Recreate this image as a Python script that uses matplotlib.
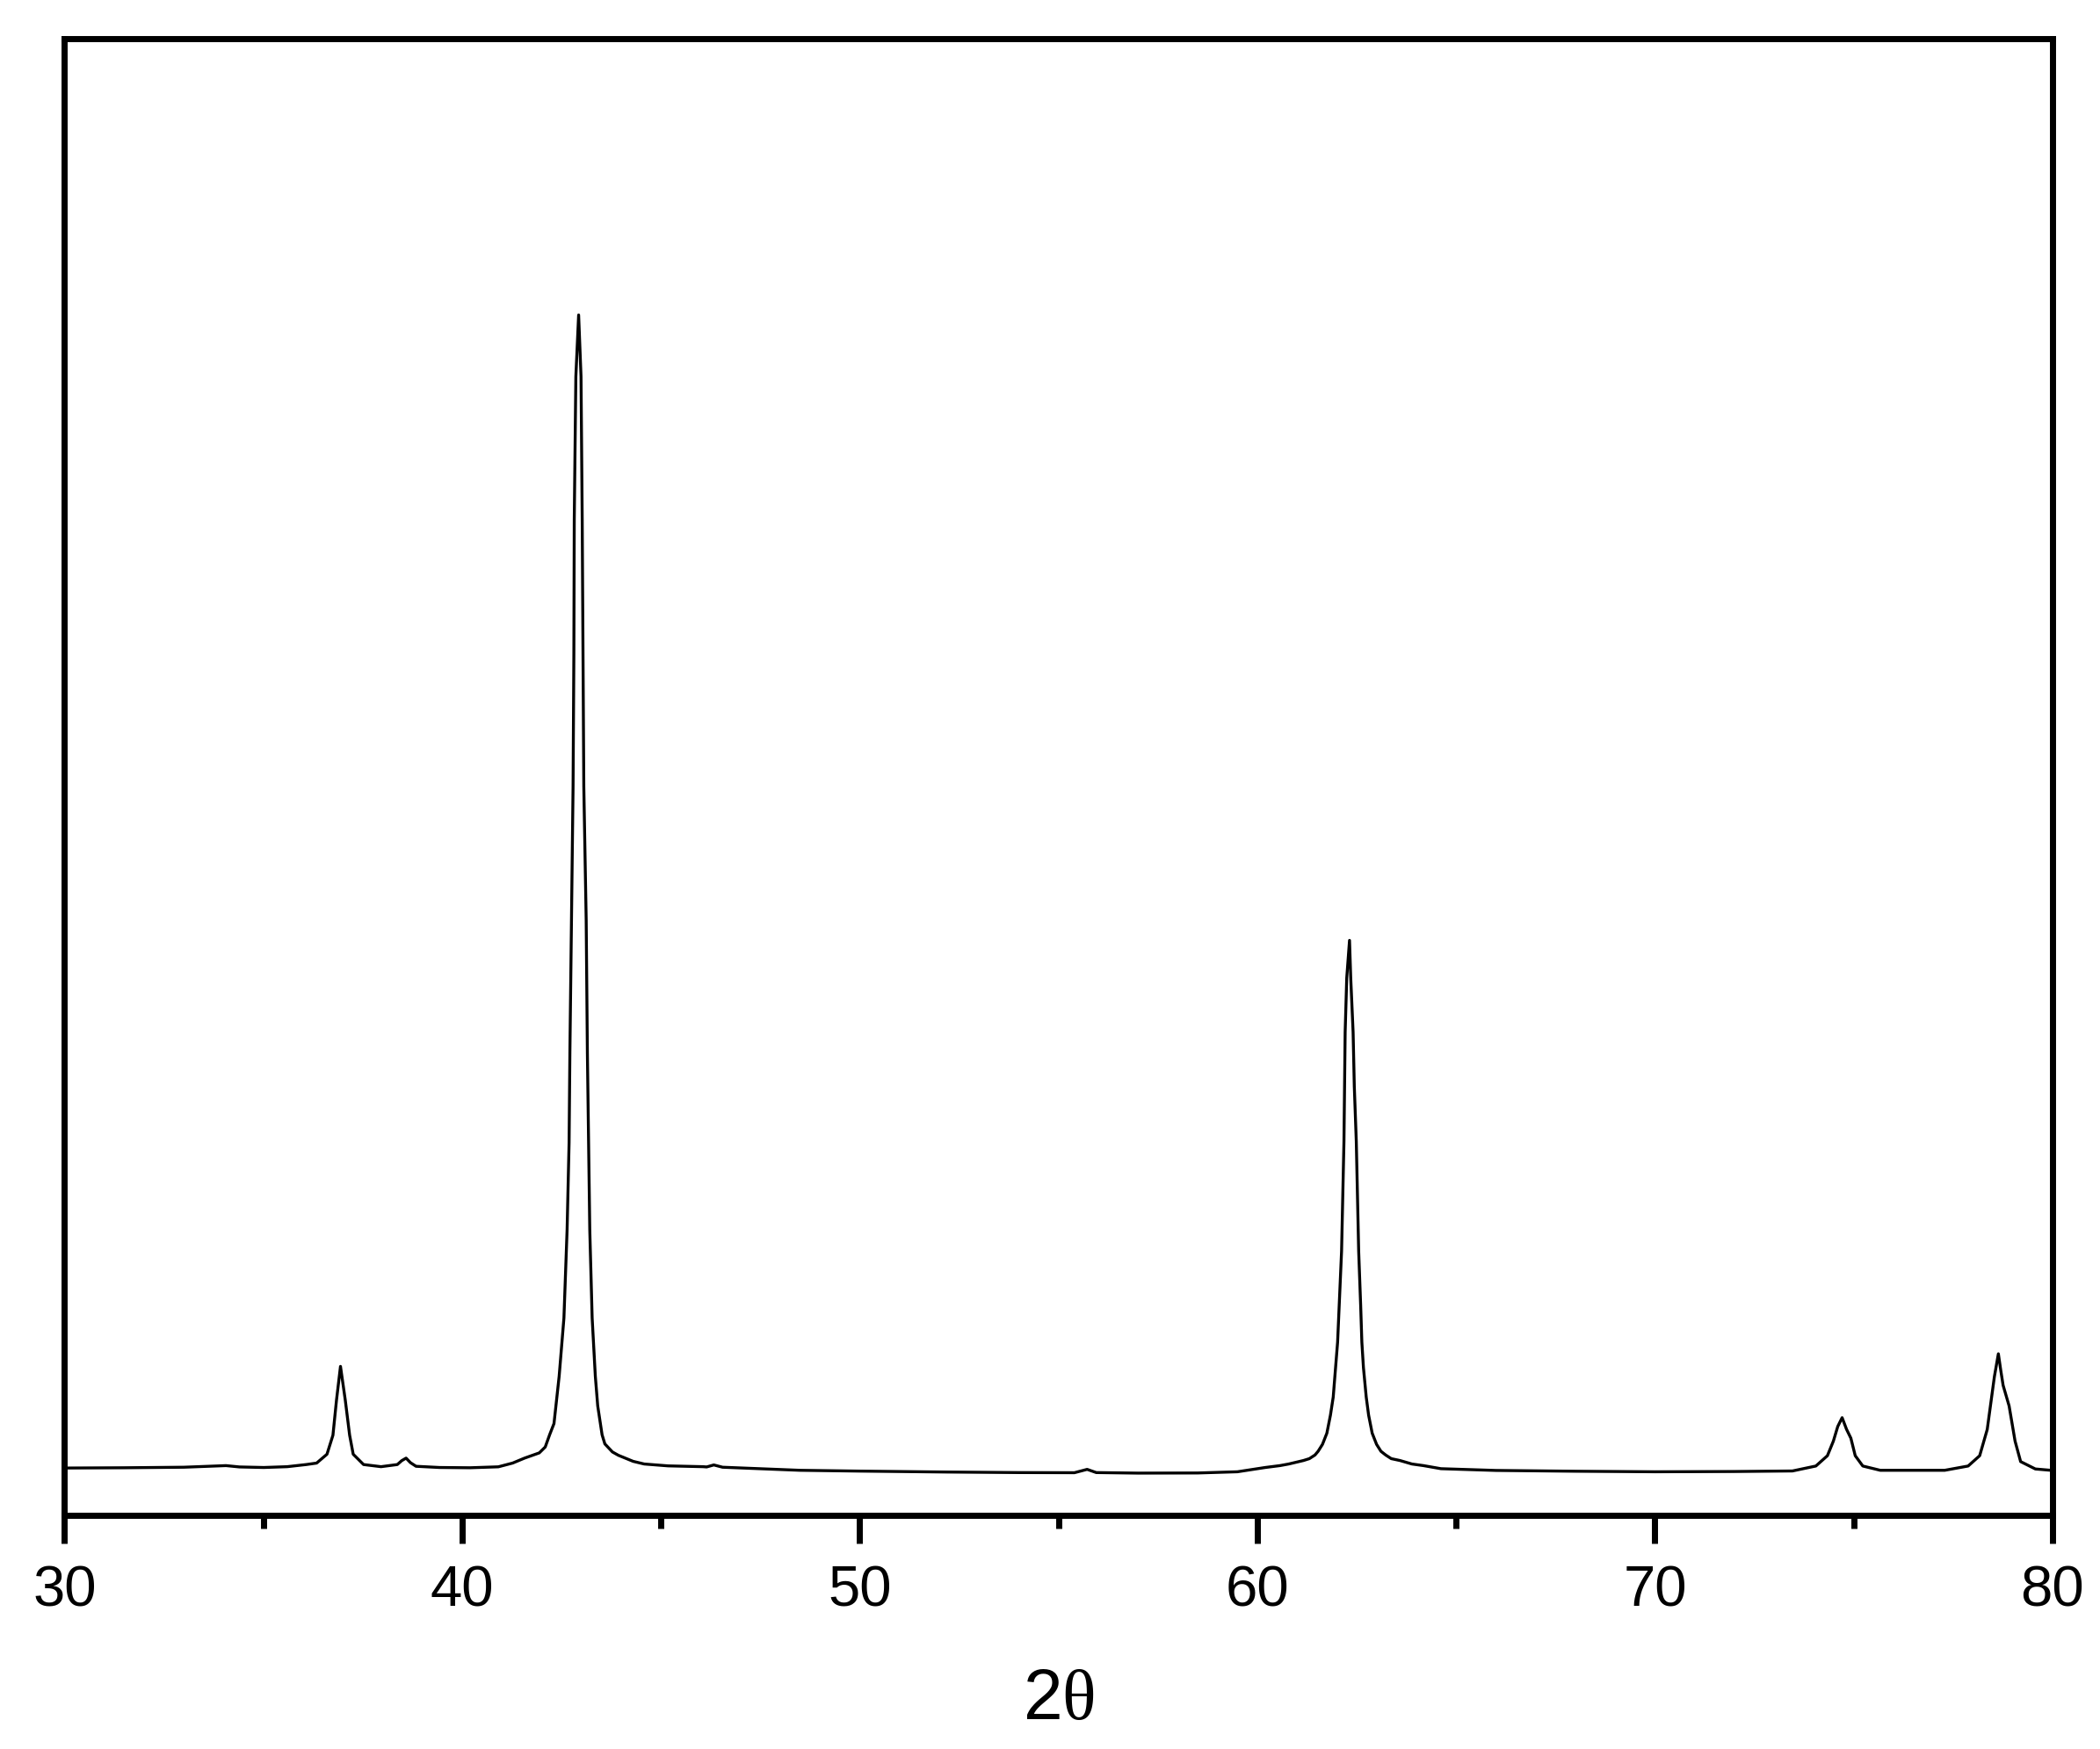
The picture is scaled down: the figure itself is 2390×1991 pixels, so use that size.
import matplotlib
matplotlib.use("Agg")
import matplotlib.pyplot as plt
from matplotlib.ticker import MultipleLocator

# XRD pattern (2theta in degrees, intensity in arb. units)
two_theta = [
    30.00, 31.50, 33.00, 34.06, 34.40, 35.01, 35.60, 36.08, 36.34, 36.60,
    36.75, 36.84, 36.94, 37.06, 37.17, 37.26, 37.52, 37.96, 38.37, 38.48,
    38.59, 38.70, 38.84, 39.43, 40.20, 40.91, 41.27, 41.57, 41.94, 42.09,
    42.20, 42.31, 42.44, 42.56, 42.64, 42.69, 42.71, 42.75, 42.79, 42.81,
    42.82, 42.86, 42.93, 42.99, 43.02, 43.04, 43.06, 43.12, 43.15, 43.18,
    43.21, 43.27, 43.35, 43.41, 43.52, 43.59, 43.78, 43.93, 44.30, 44.58,
    45.18, 46.06, 46.15, 46.33, 46.55, 47.50, 48.50, 50.00, 52.20, 54.00,
    55.40, 55.72, 55.95, 57.00, 58.50, 59.50, 60.20, 60.57, 60.79, 61.16,
    61.31, 61.45, 61.53, 61.64, 61.75, 61.84, 61.91, 61.97, 62.02, 62.06,
    62.12, 62.15, 62.18, 62.21, 62.25, 62.32, 62.35, 62.41, 62.44, 62.49,
    62.52, 62.55, 62.60, 62.63, 62.67, 62.74, 62.80, 62.89, 63.00, 63.11,
    63.23, 63.37, 63.59, 63.89, 64.18, 64.62, 66.00, 68.00, 70.00, 72.00,
    73.46, 74.05, 74.34, 74.49, 74.60, 74.71, 74.82, 74.93, 75.04, 75.23,
    75.67, 77.29, 77.88, 78.17, 78.36, 78.54, 78.64, 78.70, 78.76, 78.91,
    79.06, 79.20, 79.57, 79.94, 80.00,
]
intensity = [
    35.0, 35.2, 35.6, 36.8, 35.8, 35.4, 36.0, 37.6, 38.7, 45.3,
    59.5, 85.8, 110.9, 85.8, 59.5, 45.3, 37.6, 36.0, 37.6, 40.5,
    42.4, 39.0, 36.3, 35.4, 35.2, 35.9, 38.7, 42.4, 46.3, 50.7,
    59.8, 68.2, 103.5, 147.0, 213.0, 278.0, 345.0, 444.0, 544.0, 643.0,
    743.0, 850.0, 896.0, 850.0, 743.0, 643.0, 544.0, 444.0, 345.0, 278.0,
    213.0, 147.0, 103.5, 81.4, 59.8, 53.0, 47.0, 44.5, 40.0, 38.0,
    36.6, 36.0, 35.8, 37.3, 35.6, 34.5, 33.3, 32.7, 32.0, 31.6,
    31.5, 34.0, 31.6, 31.2, 31.3, 32.2, 35.4, 36.8, 38.0, 40.6,
    42.0, 44.7, 47.5, 52.7, 61.0, 74.5, 88.0, 110.0, 129.0, 156.5,
    197.0, 238.0, 279.0, 360.5, 401.0, 429.0, 401.0, 360.5, 320.0, 279.0,
    238.0, 197.0, 156.5, 129.0, 110.0, 88.0, 74.5, 61.0, 52.7, 47.5,
    44.7, 42.0, 40.6, 38.0, 36.8, 34.5, 33.2, 32.6, 32.2, 32.4,
    32.8, 36.5, 44.2, 55.1, 66.0, 72.6, 64.0, 57.3, 44.2, 36.5,
    33.3, 33.3, 36.5, 44.2, 63.8, 103.2, 120.3, 108.0, 96.7, 81.4,
    55.1, 39.8, 34.3, 33.3, 33.2,
]

plt.rcParams['font.family'] = ['Liberation Sans', 'DejaVu Sans']
plt.rcParams['mathtext.fontset'] = 'custom'
plt.rcParams['mathtext.rm'] = 'Liberation Serif'

fig = plt.figure(figsize=(23.9, 19.91), dpi=100)
ax = fig.add_axes([0.03075, 0.13385, 0.9466, 0.8438])

ax.plot(two_theta, intensity, color='black', lw=2.4)

ax.set_xlim(30, 80)
ax.set_ylim(0, 1102)
ax.xaxis.set_major_locator(MultipleLocator(10))
ax.xaxis.set_minor_locator(MultipleLocator(5))
ax.tick_params(axis='x', which='major', direction='out', length=23, width=5,
               labelsize=47, pad=18)
ax.tick_params(axis='x', which='minor', direction='out', length=11, width=5)
ax.set_yticks([])
for sp in ax.spines.values():
    sp.set_linewidth(5)

ax.set_xlabel(r'2$\mathrm{\theta}$', fontsize=58, labelpad=41)

fig.savefig("out.png", dpi=100)
plt.close(fig)
